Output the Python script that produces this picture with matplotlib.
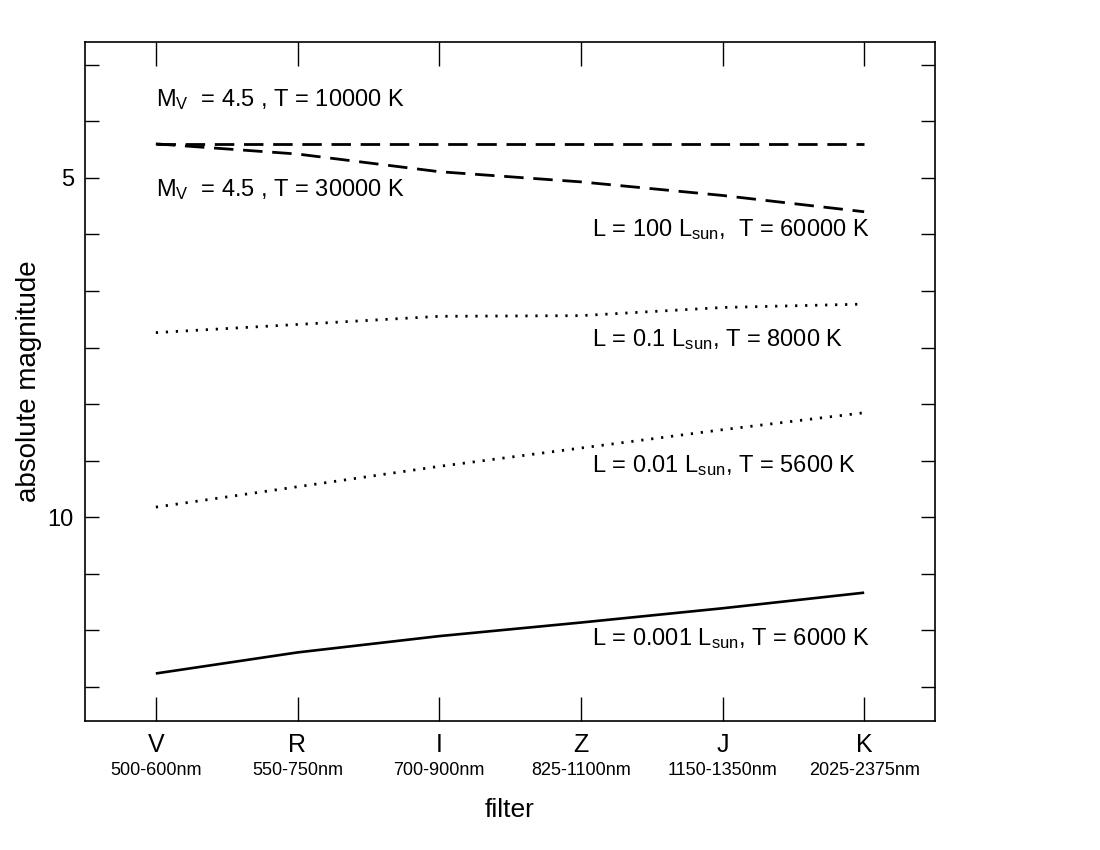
import matplotlib
matplotlib.use("Agg")
import matplotlib.pyplot as plt
from matplotlib.ticker import MultipleLocator, FixedLocator, NullFormatter

plt.rcParams['font.family'] = ['Liberation Sans', 'DejaVu Sans']
plt.rcParams['mathtext.fontset'] = 'custom'
plt.rcParams['mathtext.rm'] = 'Liberation Sans'
plt.rcParams['mathtext.it'] = 'Liberation Sans'

filters = ['V', 'R', 'I', 'Z', 'J', 'K']
bands = ['500-600nm', '550-750nm', '700-900nm', '825-1100nm', '1150-1350nm', '2025-2375nm']
x = list(range(len(filters)))

mag_10000 = [4.50, 4.50, 4.50, 4.50, 4.50, 4.50]
mag_30000 = [4.50, 4.65, 4.91, 5.06, 5.26, 5.50]
mag_01 = [7.28, 7.16, 7.04, 7.03, 6.91, 6.86]
mag_001 = [9.85, 9.55, 9.25, 8.98, 8.71, 8.46]
mag_0001 = [12.30, 11.99, 11.75, 11.55, 11.34, 11.11]

fig = plt.figure(figsize=(11, 8.5), dpi=100)
ax = fig.add_axes([85/1100, 1-721/850, (935-85)/1100, (721-42)/850])

ax.plot(x, mag_10000, color='black', lw=2.0, dashes=(7, 3.5))
ax.plot(x, mag_30000, color='black', lw=2.0, dashes=(7, 3.5))
ax.plot(x, mag_01, color='black', lw=2.0, dashes=(0.8, 2.8))
ax.plot(x, mag_001, color='black', lw=2.0, dashes=(0.8, 2.8))
ax.plot(x, mag_0001, color='black', lw=1.9, solid_capstyle='butt')

ax.set_xlim(-0.5, 5.5)
ax.set_ylim(13, 3)

ax.yaxis.set_major_locator(FixedLocator([5, 10]))
ax.yaxis.set_minor_locator(MultipleLocator(5/6))
ax.set_yticklabels(['5', '10'])
ax.tick_params(axis='y', which='both', direction='in', left=True, right=True,
               length=10, width=1, labelsize=17, pad=8)
ax.xaxis.set_major_locator(FixedLocator(x))
ax.xaxis.set_major_formatter(NullFormatter())
ax.tick_params(axis='x', which='major', direction='in', top=True, bottom=True,
               length=17, width=1)
for s in ax.spines.values():
    s.set_linewidth(1.2)

trans = ax.get_xaxis_transform()
for xi, f, b in zip(x, filters, bands):
    ax.text(xi, -0.018, f, transform=trans, ha='center', va='top', fontsize=18)
    ax.text(xi, -0.06, b, transform=trans, ha='center', va='top', fontsize=13)

ax.set_xlabel('filter', fontsize=19, labelpad=52)
ax.set_ylabel('absolute magnitude', fontsize=20, labelpad=4)

fs = 17
ax.text(0.0, 3.85, r'M$_{\rm V}$  = 4.5 , T = 10000 K', fontsize=fs, ha='left', va='center')
ax.text(0.0, 5.18, r'M$_{\rm V}$  = 4.5 , T = 30000 K', fontsize=fs, ha='left', va='center')
ax.text(3.08, 5.76, r'L = 100 L$_{\rm sun}$,  T = 60000 K', fontsize=fs, ha='left', va='center')
ax.text(3.08, 7.38, r'L = 0.1 L$_{\rm sun}$, T = 8000 K', fontsize=fs, ha='left', va='center')
ax.text(3.08, 9.24, r'L = 0.01 L$_{\rm sun}$, T = 5600 K', fontsize=fs, ha='left', va='center')
ax.text(3.08, 11.79, r'L = 0.001 L$_{\rm sun}$, T = 6000 K', fontsize=fs, ha='left', va='center')

fig.savefig('out.png', dpi=100)
